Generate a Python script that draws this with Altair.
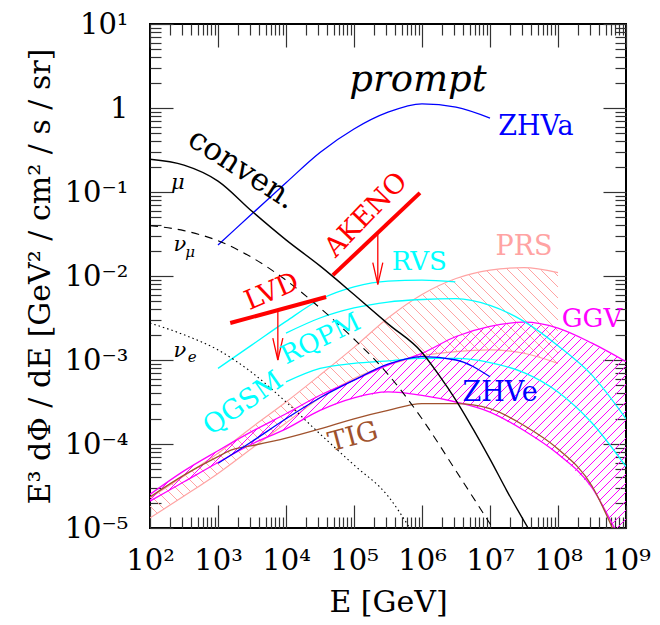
import altair as alt
import numpy as np
import pandas as pd

# ---------------- data: log10(E/GeV) and log10(E^3 dPhi/dE) ----------------
# conventional atmospheric fluxes
mu_logE = [2.0, 2.5, 3.0, 3.5, 4.0, 4.5, 5.0, 5.5, 6.0, 6.25, 6.5, 6.75, 7.0, 7.25, 7.56]
mu_logF = [-0.61, -0.68, -0.87, -1.23, -1.57, -1.88, -2.22, -2.57, -2.91, -3.18, -3.48, -3.82, -4.18, -4.56, -5.0]
numu_logE = [2.0, 2.5, 3.0, 3.5, 4.0, 4.5, 5.0, 5.5, 6.0, 6.5, 7.04]
numu_logF = [-1.40, -1.46, -1.58, -1.78, -2.05, -2.38, -2.75, -3.17, -3.70, -4.32, -5.0]
nue_logE = [2.0, 2.5, 3.0, 3.5, 4.0, 4.5, 5.0, 5.5, 5.82]
nue_logF = [-2.56, -2.70, -2.88, -3.15, -3.50, -3.88, -4.25, -4.62, -5.0]

# prompt models
zhva_logE = [3.0, 3.5, 4.0, 4.5, 5.0, 5.5, 6.0, 6.5, 7.0]
zhva_logF = [-1.63, -1.26, -0.89, -0.53, -0.25, -0.05, 0.05, 0.01, -0.12]
zhve_logE = [3.0, 3.5, 4.0, 4.5, 5.0, 5.5, 6.0, 6.5, 7.0]
zhve_logF = [-4.23, -3.97, -3.70, -3.45, -3.24, -3.05, -2.96, -3.00, -3.20]
rvs_logE = [3.0, 3.5, 4.0, 4.5, 5.0, 5.5, 6.0, 6.49]
rvs_logF = [-3.10, -2.82, -2.54, -2.28, -2.13, -2.06, -2.05, -2.07]
rqpm_logE = [4.0, 4.5, 5.0, 5.5, 6.0, 6.5, 7.0, 7.5, 8.0, 8.5, 9.0]
rqpm_logF = [-2.68, -2.50, -2.38, -2.31, -2.28, -2.27, -2.35, -2.54, -2.83, -3.18, -3.70]
qgsm_logE = [4.0, 4.5, 5.0, 5.5, 6.0, 6.5, 7.0, 7.5, 8.0, 8.5, 9.0]
qgsm_logF = [-3.26, -3.10, -3.04, -3.01, -2.98, -2.98, -3.03, -3.15, -3.38, -3.75, -4.27]
tig_logE = [2.0, 2.5, 3.0, 3.2, 3.5, 4.0, 4.5, 5.0, 5.5, 6.0, 6.5, 7.0, 7.5, 8.0, 8.5, 8.80]
tig_logF = [-4.63, -4.37, -4.15, -4.07, -4.02, -3.93, -3.82, -3.70, -3.60, -3.52, -3.52, -3.58, -3.78, -4.06, -4.50, -5.0]

# PRS band
prs_logE = [2.0, 2.5, 3.0, 3.5, 4.0, 4.5, 5.0, 5.5, 6.0, 6.5, 7.0, 7.5, 8.0]
prs_hi = [-4.64, -4.38, -4.11, -3.80, -3.50, -3.18, -2.85, -2.50, -2.22, -2.03, -1.93, -1.90, -1.96]
prs_lo = [-4.88, -4.62, -4.35, -4.05, -3.75, -3.45, -3.22, -3.06, -2.95, -2.90, -2.88, -2.92, -3.04]

# GGV band
ggv_hi_logE = [2.0, 2.5, 3.0, 3.5, 4.0, 4.5, 5.0, 5.5, 6.0, 6.5, 7.0, 7.5, 8.0, 8.5, 9.0]
ggv_hi = [-4.60, -4.32, -4.08, -3.85, -3.64, -3.42, -3.24, -3.06, -2.92, -2.72, -2.60, -2.55, -2.62, -2.80, -3.02]
ggv_lo_logE = [2.0, 2.5, 3.0, 3.5, 4.0, 4.5, 5.0, 5.5, 6.0, 6.5, 7.0, 7.5, 8.0, 8.5, 8.83]
ggv_lo = [-4.68, -4.45, -4.22, -4.00, -3.82, -3.60, -3.45, -3.38, -3.42, -3.50, -3.62, -3.84, -4.12, -4.52, -5.0]

# experimental limits
akeno_logE = [4.69, 5.97]
akeno_logF = [-1.99, -1.01]
lvd_logE = [3.18, 4.59]
lvd_logF = [-2.56, -2.25]
arrow_logE = [5.35, 3.88]          # AKENO, LVD
arrow_tip_logF = [-2.10, -3.00]

# tick labels
x_tick_labels = ["10²", "10³", "10⁴", "10⁵", "10⁶", "10⁷", "10⁸", "10⁹"]
y_tick_labels = ["10⁻⁵", "10⁻⁴", "10⁻³", "10⁻²", "10⁻¹", "1", "10¹"]

# annotations
ann_text = ["ZHVa", "conven.", "AKENO", "LVD", "RVS", "PRS", "GGV", "RQPM", "QGSM", "ZHVe", "TIG"]
ann_logE = [7.12, 3.35, 5.18, 3.79, 5.96, 7.50, 8.50, 4.51, 3.37, 7.15, 4.99]
ann_logF = [-0.226, -0.73, -1.274, -2.19, -1.83, -1.655, -2.51, -2.75, -3.52, -3.39, -3.92]

greek_text = ["μ", "ν", "μ", "ν", "e"]
greek_logE = [2.41, 2.44, 2.59, 2.44, 2.62]
greek_logF = [-0.89, -1.63, -1.72, -2.89, -2.96]

FONT = "DejaVu Serif"
BLACK, BLUE, CYAN, RED = "#000000", "#0000ff", "#00ffff", "#ff0000"
SALMON, MAGENTA, BROWN = "#ffa3a3", "#ff00ff", "#a0522d"

W, H = 476, 504
KX, KY = W / 7.0, H / 6.0

xscale = alt.Scale(type="log", domain=[1e2, 1e9], nice=False)
yscale = alt.Scale(type="log", domain=[1e-5, 10], nice=False)


def df_of(logE, logF):
    return pd.DataFrame({"E": 10.0 ** np.array(logE), "F": 10.0 ** np.array(logF)})


def hatch(hiE, hi, loE, lo, u0, u1, spacing, direction):
    us = np.arange(u0, u1 + 0.001, 0.25)
    lE = 2 + us / KX
    vhi = (np.interp(lE, hiE, hi) + 5) * KY
    vlo = (np.interp(lE, loE, lo) + 5) * KY
    rows = []
    if direction > 0:
        cs = np.arange(-u1, H - u0, spacing)
    else:
        cs = np.arange(u0, H + u1, spacing)
    for c in cs:
        v = direction * us + c
        inside = (v >= vlo) & (v <= vhi) & (v >= 0) & (v <= H)
        edges = np.flatnonzero(np.diff(np.concatenate([[0], inside.astype(int), [0]])))
        for s, e in zip(edges[::2], edges[1::2]):
            if e - 1 - s < 1:
                continue
            ua, ub = us[s], us[e - 1]
            va, vb = direction * ua + c, direction * ub + c
            rows.append({"E": 10 ** (2 + ua / KX), "E2": 10 ** (2 + ub / KX),
                         "F": 10 ** (-5 + va / KY), "F2": 10 ** (-5 + vb / KY)})
    return pd.DataFrame(rows)


major_test = "abs(log(datum.value)/LN10 - round(log(datum.value)/LN10)) < 0.001"
tick_size = {"condition": {"test": major_test, "value": 23}, "value": 11}
x_all = sorted([m * 10.0 ** k for k in range(2, 9) for m in range(1, 10)] + [1e9])
y_all = sorted([m * 10.0 ** k for k in range(-5, 1) for m in range(1, 10)] + [10.0])
x_major = [10.0 ** k for k in range(2, 10)]
y_major = [10.0 ** k for k in range(-5, 2)]
x_label_expr = "[" + ",".join("'%s'" % s for s in x_tick_labels) + "][round(log(datum.value)/LN10) - 2]"
y_label_expr = "[" + ",".join("'%s'" % s for s in y_tick_labels) + "][round(log(datum.value)/LN10) + 5]"

ax_x_lab = alt.Axis(values=x_major, labelExpr=x_label_expr, ticks=False, domain=False, grid=False,
                    labelFont=FONT, labelFontSize=29, labelColor="black", labelPadding=18,
                    labelFlush=False, labelOverlap=False,
                    title="E  [GeV]", titleFont=FONT, titleFontSize=30, titleFontWeight="normal",
                    titleColor="black", titleX=238, titleY=74, titleAlign="center", titleBaseline="middle")
ax_y_lab = alt.Axis(values=y_major, labelExpr=y_label_expr, ticks=False, domain=False, grid=False,
                    labelFont=FONT, labelFontSize=29, labelColor="black", labelPadding=22,
                    labelFlush=False, labelOverlap=False,
                    title="E³ dΦ / dE   [GeV² / cm² / s / sr]", titleFont=FONT, titleFontSize=30,
                    titleFontWeight="normal", titleColor="black", titleX=-110, titleY=252,
                    titleAngle=270, titleAlign="center", titleBaseline="middle")


def tick_axis(values, orient, offset):
    return alt.Axis(values=values, orient=orient, offset=offset, labels=False, domain=False,
                    grid=False, ticks=True, tickSize=tick_size, tickColor="#333333",
                    tickWidth=1.2, title=None)


def line_layer(df, color, width=1.3, dash=None, ax=None, ay=None):
    kw = dict(color=color, strokeWidth=width, interpolate="monotone", clip=True)
    if dash is not None:
        kw["strokeDash"] = dash
    return alt.Chart(df).mark_line(**kw).encode(
        x=alt.X("E:Q", scale=xscale, axis=ax),
        y=alt.Y("F:Q", scale=yscale, axis=ay))


def hatch_layer(df, color):
    return alt.Chart(df).mark_rule(color=color, strokeWidth=1, clip=True).encode(
        x=alt.X("E:Q", scale=xscale, axis=None), x2="E2:Q",
        y=alt.Y("F:Q", scale=yscale, axis=None), y2="F2:Q")


prs_hatch = hatch(prs_logE, prs_hi, prs_logE, prs_lo, 0, 6 * KX, 11, -1)
ggv_hatch = hatch(ggv_hi_logE, ggv_hi, ggv_lo_logE, ggv_lo, 0, W, 9, 1)

layers = [
    hatch_layer(prs_hatch, SALMON),
    line_layer(df_of(prs_logE, prs_hi), SALMON, 1.2),
    line_layer(df_of(prs_logE, prs_lo), SALMON, 1.2),
    hatch_layer(ggv_hatch, MAGENTA),
    line_layer(df_of(ggv_hi_logE, ggv_hi), MAGENTA, 1.3),
    line_layer(df_of(ggv_lo_logE, ggv_lo), MAGENTA, 1.3),
    line_layer(df_of(rvs_logE, rvs_logF), CYAN),
    line_layer(df_of(rqpm_logE, rqpm_logF), CYAN),
    line_layer(df_of(qgsm_logE, qgsm_logF), CYAN),
    line_layer(df_of(tig_logE, tig_logF), BROWN),
    line_layer(df_of(zhve_logE, zhve_logF), BLUE),
    line_layer(df_of(zhva_logE, zhva_logF), BLUE),
    line_layer(df_of(mu_logE, mu_logF), BLACK, 1.4, None, ax_x_lab, ax_y_lab),
    line_layer(df_of(numu_logE, numu_logF), BLACK, 1.1, [8, 6],
               tick_axis(x_all, "top", -H), tick_axis(y_all, "right", -W)),
    line_layer(df_of(nue_logE, nue_logF), BLACK, 1.1, [1.5, 3],
               tick_axis(x_all, "bottom", -H), tick_axis(y_all, "left", -W)),
    line_layer(df_of(akeno_logE, akeno_logF), RED, 4),
    line_layer(df_of(lvd_logE, lvd_logF), RED, 4),
]

arrow_start = [np.interp(arrow_logE[0], akeno_logE, akeno_logF),
               np.interp(arrow_logE[1], lvd_logE, lvd_logF)]
arrows = pd.DataFrame({"E": 10.0 ** np.array(arrow_logE),
                       "F": 10.0 ** np.array(arrow_start),
                       "F2": 10.0 ** np.array(arrow_tip_logF)})
layers.append(alt.Chart(arrows).mark_rule(color=RED, strokeWidth=1.3).encode(
    x=alt.X("E:Q", scale=xscale, axis=None), y=alt.Y("F:Q", scale=yscale, axis=None), y2="F2:Q"))
layers.append(alt.Chart(arrows).mark_point(
    shape="M-0.23,-1L0,0L0.23,-1", filled=False, color=RED, strokeWidth=1.3, size=1900, opacity=1).encode(
    x=alt.X("E:Q", scale=xscale, axis=None), y=alt.Y("F2:Q", scale=yscale, axis=None)))

ann = pd.DataFrame({
    "E": 10.0 ** np.array(ann_logE), "F": 10.0 ** np.array(ann_logF), "text": ann_text,
    "color": [BLUE, BLACK, RED, RED, CYAN, SALMON, MAGENTA, CYAN, CYAN, BLUE, BROWN],
    "angle": [0, 33, 314, 337, 0, 0, 0, 334, 325, 0, 345],
    "size": [27, 31, 27, 27, 26, 27, 26, 26, 27, 27, 27],
    "align": ["left"] + ["center"] * 10,
})
ann_left = ann[ann["align"] == "left"]
ann_center = ann[ann["align"] == "center"]
for sub, al in [(ann_left, "left"), (ann_center, "center")]:
    layers.append(alt.Chart(sub).mark_text(font=FONT, align=al, baseline="middle").encode(
        x=alt.X("E:Q", scale=xscale, axis=None), y=alt.Y("F:Q", scale=yscale, axis=None),
        text="text:N", color=alt.Color("color:N", scale=None),
        angle=alt.Angle("angle:Q", scale=None), size=alt.Size("size:Q", scale=None)))

prompt_df = pd.DataFrame({"E": [10 ** 5.94], "F": [10 ** 0.333], "text": ["prompt"]})
layers.append(alt.Chart(prompt_df).mark_text(font=FONT, fontStyle="italic", fontSize=37,
                                             color=BLACK, baseline="middle").encode(
    x=alt.X("E:Q", scale=xscale, axis=None), y=alt.Y("F:Q", scale=yscale, axis=None), text="text:N"))

greek = pd.DataFrame({"E": 10.0 ** np.array(greek_logE), "F": 10.0 ** np.array(greek_logF),
                      "text": greek_text, "size": [21, 21, 15, 21, 15]})
layers.append(alt.Chart(greek).mark_text(font=FONT, fontStyle="italic", color=BLACK, baseline="middle").encode(
    x=alt.X("E:Q", scale=xscale, axis=None), y=alt.Y("F:Q", scale=yscale, axis=None),
    text="text:N", size=alt.Size("size:Q", scale=None)))

chart = alt.layer(*layers).resolve_axis(x="independent", y="independent").properties(
    width=W, height=H, autosize=alt.AutoSizeParams(type="none"),
    padding={"left": 142, "top": 16, "right": 26, "bottom": 96},
).configure_view(stroke="black", strokeWidth=2)

chart.save("out.html", embed_options={"renderer": "svg", "actions": False})
